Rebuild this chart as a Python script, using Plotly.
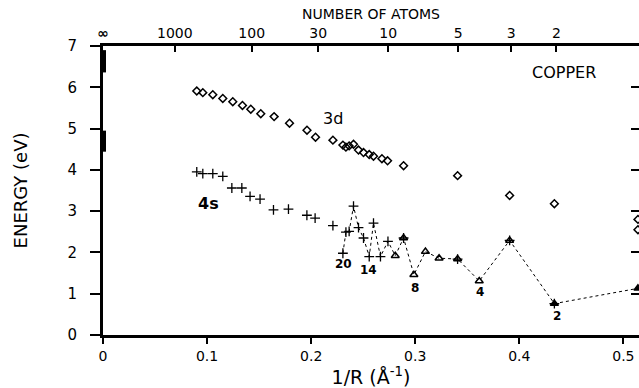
import plotly.graph_objects as go

# ---- data ----
x_3d = [0.0901, 0.0959, 0.1055, 0.1151, 0.1247, 0.1340, 0.1420, 0.1516, 0.1644, 0.1792,
        0.1960, 0.2042, 0.2209, 0.2305, 0.2334, 0.2365, 0.2407, 0.2455, 0.2503, 0.2558,
        0.2599, 0.2680, 0.2734, 0.2888, 0.3407, 0.3907, 0.4337, 0.5140, 0.5140]
e_3d = [5.91, 5.87, 5.82, 5.73, 5.65, 5.56, 5.47, 5.36, 5.29, 5.13,
        4.96, 4.79, 4.72, 4.60, 4.55, 4.58, 4.62, 4.48, 4.42, 4.37,
        4.33, 4.27, 4.22, 4.10, 3.86, 3.38, 3.18, 2.80, 2.55]

x_4s = [0.0901, 0.0959, 0.1055, 0.1151, 0.1238, 0.1334, 0.1413, 0.1509, 0.1638, 0.1782,
        0.1959, 0.2038, 0.2209, 0.2305, 0.2334, 0.2365, 0.2407, 0.2455, 0.2503, 0.2558,
        0.2599, 0.2666, 0.2738, 0.2888, 0.3407, 0.3907, 0.4337]
e_4s = [3.95, 3.91, 3.91, 3.84, 3.56, 3.56, 3.36, 3.29, 3.03, 3.05,
        2.90, 2.83, 2.65, 1.98, 2.49, 2.51, 3.12, 2.60, 2.35, 1.90,
        2.71, 1.90, 2.27, 2.35, 1.84, 2.29, 0.76]

# small clusters N = 10 ... 1 (triangles)
x_tri = [0.2808, 0.2888, 0.2987, 0.3098, 0.3229, 0.3407, 0.3615, 0.3907, 0.4337, 0.5140]
e_tri = [1.92, 2.35, 1.46, 2.02, 1.86, 1.84, 1.31, 2.29, 0.76, 1.13]

# dotted path N = 20 ... 1
x_path = [0.2305, 0.2334, 0.2365, 0.2407, 0.2455, 0.2503, 0.2558, 0.2599, 0.2666, 0.2738,
          0.2808, 0.2888, 0.2987, 0.3098, 0.3229, 0.3407, 0.3615, 0.3907, 0.4337, 0.5140]
e_path = [1.98, 2.49, 2.51, 3.12, 2.60, 2.35, 1.90, 2.71, 1.90, 2.27,
          1.92, 2.35, 1.46, 2.02, 1.86, 1.84, 1.31, 2.29, 0.76, 1.13]

# bulk values (bars at 1/R = 0)
bulk_upper = [6.36, 6.90]
bulk_lower = [4.44, 4.95]

# cluster size labels
size_labels = ["20", "14", "8", "4", "2"]
size_label_x = [0.2310, 0.2550, 0.2994, 0.3625, 0.4363]
size_label_y = [1.72, 1.57, 1.14, 1.03, 0.46]

# top axis: number of atoms
top_ticks = [0.0, 0.0690, 0.1429, 0.2067, 0.2740, 0.3413, 0.3923, 0.4356]
top_labels = ["∞", "1000", "100", "30", "10", "5", "3", "2"]

x_ticks = [0, 0.1, 0.2, 0.3, 0.4, 0.5]
x_ticklabels = ["0", "0.1", "0.2", "0.3", "0.4", "0.5"]
y_ticks = [0, 1, 2, 3, 4, 5, 6, 7]

XR = [0, 0.515]
YR = [0, 7]
FONT = "DejaVu Sans"

top_text = ["<b>%s</b>" % t if t == "∞" else t for t in top_labels]

fig = go.Figure()

fig.add_trace(go.Scatter(x=x_path, y=e_path, mode="lines",
                         line=dict(color="black", width=1, dash="dot"),
                         cliponaxis=False, hoverinfo="skip"))
fig.add_trace(go.Scatter(x=x_3d, y=e_3d, mode="markers", cliponaxis=False,
                         marker=dict(symbol="diamond-open", size=6, color="black",
                                     line=dict(width=1.5, color="black"))))
fig.add_trace(go.Scatter(x=x_4s, y=e_4s, mode="markers",
                         marker=dict(symbol="cross-thin", size=7, color="black",
                                     line=dict(width=1.3, color="black"))))
fig.add_trace(go.Scatter(x=x_tri, y=e_tri, mode="markers", cliponaxis=False,
                         marker=dict(symbol=["triangle-up-open"] * 8 + ["triangle-up"] * 2,
                                     size=7, color="black",
                                     line=dict(width=1.5, color="black"))))
for band in (bulk_upper, bulk_lower):
    fig.add_trace(go.Scatter(x=[0, 0], y=band, mode="lines", cliponaxis=False,
                             line=dict(color="black", width=6)))

# invisible trace for top axis
fig.add_trace(go.Scatter(x=[XR[0]], y=[YR[0]], xaxis="x2", yaxis="y2",
                         mode="markers", marker=dict(opacity=0), hoverinfo="skip"))

for t, x, y in zip(size_labels, size_label_x, size_label_y):
    fig.add_annotation(x=x, y=y, text="<b>%s</b>" % t, showarrow=False,
                       font=dict(family=FONT, size=12, color="black"))

fig.add_annotation(x=0.221, y=5.25, text="3d", showarrow=False,
                   font=dict(family=FONT, size=16, color="black"))
fig.add_annotation(x=0.101, y=3.19, text="<b>4s</b>", showarrow=False,
                   font=dict(family=FONT, size=16, color="black"))
fig.add_annotation(x=0.476, y=6.35, text="COPPER", showarrow=False, xanchor="right",
                   font=dict(family=FONT, size=16, color="black"))

fig.update_layout(
    width=639, height=388,
    margin=dict(l=103, r=0, t=46, b=53),
    paper_bgcolor="white", plot_bgcolor="white",
    showlegend=False,
    font=dict(family=FONT, size=14, color="black"),
    xaxis=dict(range=XR, tickvals=x_ticks, ticktext=x_ticklabels,
               ticks="outside", ticklen=6, tickwidth=1.5, tickcolor="black",
               showline=True, linecolor="black", linewidth=3,
               showgrid=False, zeroline=False,
               title=dict(text="1/R (Å<sup>-1</sup>)", font=dict(size=19), standoff=2),
               tickfont=dict(size=14)),
    yaxis=dict(range=YR, tickvals=y_ticks,
               ticks="outside", ticklen=10, tickwidth=1.5, tickcolor="black",
               ticklabelstandoff=10,
               showline=True, linecolor="black", linewidth=3,
               showgrid=False, zeroline=False,
               title=dict(text="ENERGY (eV)", font=dict(size=18), standoff=36),
               tickfont=dict(size=15)),
    xaxis2=dict(range=XR, overlaying="x", side="top", anchor="y",
                tickvals=top_ticks, ticktext=top_text,
                ticks="inside", ticklen=6, tickwidth=1.5, tickcolor="black",
                showline=True, linecolor="black", linewidth=2.5,
                showgrid=False, zeroline=False,
                title=dict(text="NUMBER OF ATOMS", font=dict(size=14), standoff=2),
                tickfont=dict(size=14)),
    yaxis2=dict(range=YR, overlaying="y", side="right", anchor="x",
                tickvals=y_ticks, showticklabels=False,
                ticks="inside", ticklen=8, tickwidth=1.5, tickcolor="black",
                showline=False, showgrid=False, zeroline=False),
)

fig.write_html("out.html")
